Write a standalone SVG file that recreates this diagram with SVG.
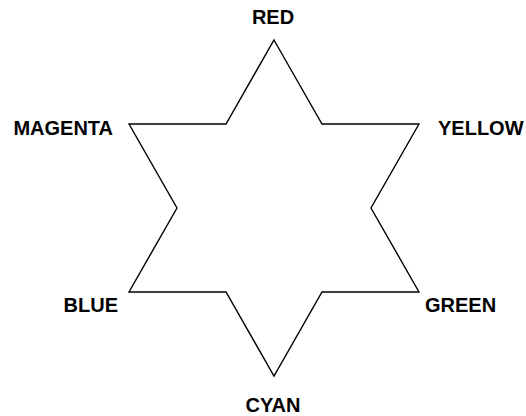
<svg xmlns="http://www.w3.org/2000/svg" width="526" height="416" viewBox="0 0 526 416">
<style>
.lbl{font-family:"Liberation Sans",Arial,sans-serif;font-weight:bold;font-size:20px;fill:#000}
.star{fill:none;stroke:#000;stroke-width:1.4;stroke-linejoin:miter}
</style>
<rect width="526" height="416" fill="#fff"/>
<g id="star">
<polygon class="star" points="274,40 322,124 419,124 371,208 419,292 322,292 274,376 226,292 129,292 177,208 129,124 226,124"/>
</g>
<g id="red"><text class="lbl" x="273" y="24" text-anchor="middle">RED</text></g>
<g id="yellow"><text class="lbl" x="438" y="135">YELLOW</text></g>
<g id="green"><text class="lbl" x="425" y="312">GREEN</text></g>
<g id="cyan"><text class="lbl" x="273" y="412" text-anchor="middle">CYAN</text></g>
<g id="blue"><text class="lbl" x="118" y="312" text-anchor="end">BLUE</text></g>
<g id="magenta"><text class="lbl" x="113" y="135" text-anchor="end">MAGENTA</text></g>
</svg>
